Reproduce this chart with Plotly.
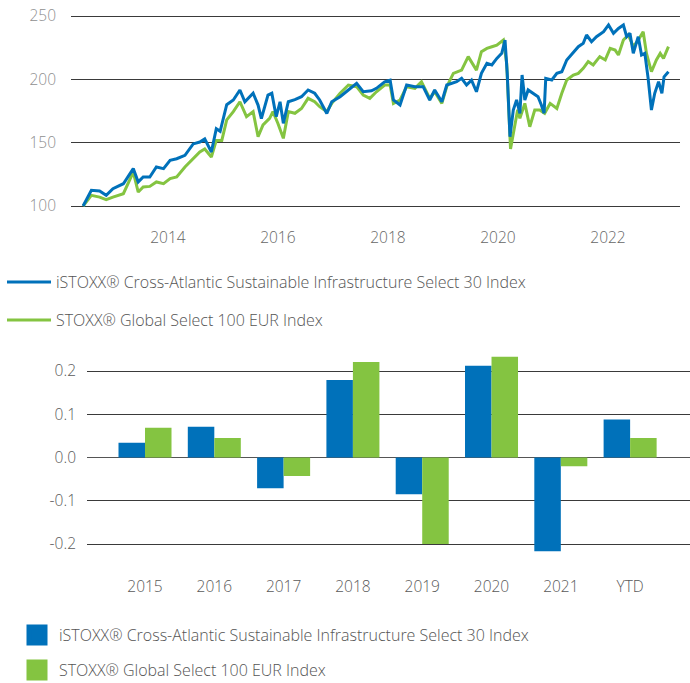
import plotly.graph_objects as go
from datetime import datetime, timedelta

# ---------------- data ----------------
SERIES_A = "iSTOXX® Cross-Atlantic Sustainable Infrastructure Select 30 Index"
SERIES_B = "STOXX® Global Select 100 EUR Index"

blue_years = [2012.46, 2012.61, 2012.76, 2012.88, 2013.00, 2013.19, 2013.37, 2013.46, 2013.55, 2013.67,
              2013.79, 2013.92, 2014.04, 2014.16, 2014.31, 2014.46, 2014.58, 2014.67, 2014.79, 2014.88,
              2014.95, 2015.07, 2015.19, 2015.31, 2015.40, 2015.55, 2015.64, 2015.70, 2015.82, 2015.89,
              2015.97, 2016.04, 2016.10, 2016.19, 2016.31, 2016.43, 2016.55, 2016.67, 2016.76, 2016.89,
              2016.98, 2017.13, 2017.28, 2017.43, 2017.55, 2017.70, 2017.79, 2017.94, 2018.04, 2018.10,
              2018.22, 2018.34, 2018.49, 2018.64, 2018.76, 2018.85, 2018.98, 2019.07, 2019.25, 2019.34,
              2019.43, 2019.52, 2019.61, 2019.70, 2019.80, 2019.89, 2019.98, 2020.07, 2020.13, 2020.17,
              2020.22, 2020.28, 2020.34, 2020.40, 2020.44, 2020.49, 2020.55, 2020.64, 2020.73, 2020.79,
              2020.84, 2020.87, 2020.98, 2021.07, 2021.16, 2021.25, 2021.37, 2021.46, 2021.55, 2021.61,
              2021.70, 2021.79, 2021.92, 2022.01, 2022.10, 2022.19, 2022.28, 2022.34, 2022.40, 2022.46,
              2022.55, 2022.61, 2022.67, 2022.73, 2022.79, 2022.85, 2022.92, 2022.98, 2023.02, 2023.10]
blue_values = [100.0, 112.4, 111.8, 108.4, 113.7, 117.6, 129.5, 119.0, 122.9, 122.9,
               130.8, 129.5, 136.0, 137.3, 140.0, 149.0, 150.5, 153.0, 142.6, 161.0,
               159.0, 180.0, 183.7, 191.6, 182.3, 189.0, 179.7, 169.0, 187.6, 189.0,
               170.5, 182.3, 165.3, 182.3, 184.0, 186.3, 191.6, 189.0, 183.7, 173.0,
               182.3, 186.3, 191.6, 196.8, 190.2, 191.0, 192.9, 198.1, 199.4, 183.7,
               179.7, 195.5, 194.2, 194.2, 183.7, 191.6, 182.3, 195.5, 198.1, 200.8,
               195.5, 199.4, 190.2, 204.7, 212.6, 211.3, 216.5, 220.5, 231.0, 204.7,
               154.7, 175.8, 183.7, 173.1, 203.4, 183.7, 191.6, 189.0, 186.3, 179.7,
               173.2, 200.8, 199.5, 204.7, 206.0, 215.3, 221.8, 225.8, 228.4, 235.0,
               229.7, 233.7, 237.6, 242.9, 236.3, 240.2, 242.9, 233.7, 236.3, 220.5,
               233.7, 219.2, 220.5, 200.8, 175.8, 189.0, 198.2, 189.0, 202.0, 206.0]

green_years = [2012.46, 2012.61, 2012.76, 2012.88, 2013.00, 2013.19, 2013.37, 2013.46, 2013.55, 2013.67,
               2013.79, 2013.92, 2014.04, 2014.16, 2014.31, 2014.46, 2014.58, 2014.67, 2014.79, 2014.88,
               2014.98, 2015.07, 2015.19, 2015.31, 2015.43, 2015.55, 2015.64, 2015.73, 2015.85, 2015.91,
               2016.00, 2016.10, 2016.19, 2016.31, 2016.43, 2016.55, 2016.67, 2016.76, 2016.89, 2016.98,
               2017.13, 2017.28, 2017.43, 2017.55, 2017.67, 2017.79, 2017.94, 2018.04, 2018.10, 2018.22,
               2018.34, 2018.49, 2018.61, 2018.76, 2018.85, 2018.98, 2019.07, 2019.19, 2019.34, 2019.46,
               2019.61, 2019.70, 2019.80, 2019.89, 2019.98, 2020.10, 2020.16, 2020.23, 2020.31, 2020.36,
               2020.40, 2020.49, 2020.58, 2020.67, 2020.76, 2020.85, 2020.95, 2021.07, 2021.16, 2021.25,
               2021.37, 2021.46, 2021.55, 2021.64, 2021.73, 2021.85, 2021.95, 2022.04, 2022.13, 2022.19,
               2022.28, 2022.37, 2022.46, 2022.55, 2022.64, 2022.70, 2022.79, 2022.88, 2022.95, 2023.01,
               2023.10]
green_values = [100.0, 108.4, 107.0, 105.0, 107.0, 109.7, 126.8, 111.0, 115.0, 115.5,
                119.0, 117.6, 121.6, 123.0, 130.8, 137.3, 142.6, 145.0, 138.7, 151.8,
                151.8, 168.0, 174.5, 182.3, 170.5, 174.5, 154.7, 164.0, 169.2, 174.5,
                165.3, 153.4, 174.5, 173.2, 177.0, 185.0, 182.3, 178.4, 174.5, 181.0,
                189.0, 195.5, 194.2, 187.6, 185.0, 190.2, 195.5, 195.5, 181.0, 183.7,
                194.2, 192.9, 198.1, 185.0, 190.2, 181.0, 194.2, 204.7, 207.3, 217.9,
                207.3, 221.8, 224.4, 225.7, 227.0, 231.0, 212.6, 145.0, 162.6, 176.0,
                169.2, 181.0, 162.6, 175.8, 175.8, 173.2, 181.0, 177.0, 189.0, 199.5,
                203.4, 204.7, 208.7, 214.0, 211.3, 217.9, 215.3, 224.5, 223.1, 219.2,
                231.0, 235.0, 225.8, 231.0, 237.6, 220.5, 206.0, 215.3, 220.5, 216.6,
                225.8]

bar_categories = ["2015", "2016", "2017", "2018", "2019", "2020", "2021", "YTD"]
bar_blue = [0.034, 0.071, -0.071, 0.179, -0.085, 0.212, -0.217, 0.088]
bar_green = [0.069, 0.045, -0.043, 0.221, -0.200, 0.233, -0.020, 0.045]

bar_tickvals = [-0.2, -0.1, 0.0, 0.1, 0.2]
bar_ticktext = ["-0.2", "-0.1", "0.0", "0.1", "0.2"]
line_tickvals = [100, 150, 200, 250]

BLUE = "#0071BA"
GREEN = "#84C441"
FONT = "Open Sans"


def to_date(y):
    yr = int(y)
    return datetime(yr, 1, 1) + timedelta(days=(y - yr) * 365.25)


blue_dates = [to_date(v) for v in blue_years]
green_dates = [to_date(v) for v in green_years]

W, H = 690, 683


def px_x(p):
    return p / W


def px_y(p):
    return 1 - p / H


fig = go.Figure()

# line chart (green under blue)
fig.add_trace(go.Scatter(x=green_dates, y=green_values, mode="lines", name=SERIES_B,
                         line=dict(color=GREEN, width=3), xaxis="x", yaxis="y",
                         legend="legend2", hoverinfo="skip"))
fig.add_trace(go.Scatter(x=blue_dates, y=blue_values, mode="lines", name=SERIES_A,
                         line=dict(color=BLUE, width=3), xaxis="x", yaxis="y",
                         legend="legend", hoverinfo="skip"))

# bar chart
fig.add_trace(go.Bar(x=bar_categories, y=bar_blue, name=SERIES_A, marker=dict(color=BLUE, line=dict(width=0)),
                     xaxis="x2", yaxis="y2", showlegend=False))
fig.add_trace(go.Bar(x=bar_categories, y=bar_green, name=SERIES_B, marker=dict(color=GREEN, line=dict(width=0)),
                     xaxis="x2", yaxis="y2", showlegend=False))
# legend entries for the bar chart (square keys)
fig.add_trace(go.Scatter(x=[None], y=[None], mode="markers", name=SERIES_A,
                         marker=dict(symbol="square", size=16, color=BLUE, line=dict(color=BLUE, width=5)),
                         xaxis="x2", yaxis="y2", legend="legend3"))
fig.add_trace(go.Scatter(x=[None], y=[None], mode="markers", name=SERIES_B,
                         marker=dict(symbol="square", size=16, color=GREEN, line=dict(color=GREEN, width=5)),
                         xaxis="x2", yaxis="y2", legend="legend4"))

grid = "#3a3a3a"
tick_light = "#8f8f8f"
tick_dark = "#5a5a5a"
fsize = 15.5

# top axes geometry
y_lo, y_hi = 97, 253
top_px_per = (206 - 16) / 150.0
top_y0 = 206 + (100 - y_lo) * top_px_per
top_y1 = 16 - (y_hi - 250) * top_px_per

# bottom axes geometry
b_px_per = (544 - 371) / 0.4
b_lo, b_hi = -0.24, 0.26
zero_px = 457.5
bot_y0 = zero_px - b_lo * b_px_per
bot_y1 = zero_px - b_hi * b_px_per

legend_common = dict(orientation="v", xanchor="left", yanchor="middle", bgcolor="rgba(0,0,0,0)",
                     borderwidth=0, font=dict(family=FONT, size=16, color="#555555", weight=300),
                     itemclick=False, itemdoubleclick=False)

fig.update_layout(
    width=W, height=H, autosize=False,
    margin=dict(l=0, r=0, t=0, b=0, autoexpand=False),
    paper_bgcolor="white", plot_bgcolor="white",
    font=dict(family=FONT, size=fsize, color=tick_dark),
    barmode="group", bargap=0.235, bargroupgap=0,
    xaxis=dict(domain=[px_x(71), px_x(680)], type="date",
               range=[to_date(2012.24), to_date(2023.31)],
               tick0="2014-01-01", dtick="M24", tickformat="%Y",
               showgrid=False, zeroline=False, showline=False, ticks="",
               ticklabelstandoff=17,
               tickfont=dict(family=FONT, size=fsize, color="#666666", weight=300),
               anchor="y"),
    yaxis=dict(domain=[px_y(top_y0), px_y(top_y1)], range=[y_lo, y_hi],
               tickvals=line_tickvals, showgrid=True, gridcolor=grid, gridwidth=1,
               zeroline=False, showline=False, ticks="", ticklabelstandoff=14,
               tickfont=dict(family=FONT, size=fsize, color=tick_light, weight=300),
               anchor="x"),
    xaxis2=dict(domain=[px_x(87), 1.0], type="category",
                range=[-0.837, 7.864], showgrid=False, zeroline=False, showline=False,
                ticks="", ticklabelstandoff=14,
                tickfont=dict(family=FONT, size=fsize, color=tick_dark, weight=300),
                anchor="y2"),
    yaxis2=dict(domain=[px_y(bot_y0), px_y(bot_y1)], range=[b_lo, b_hi],
                tickvals=bar_tickvals, ticktext=bar_ticktext,
                showgrid=True, gridcolor=grid, gridwidth=1,
                zeroline=True, zerolinecolor="#555555", zerolinewidth=1,
                showline=False, ticks="", ticklabelstandoff=10,
                tickfont=dict(family=FONT, size=fsize, color=tick_dark, weight=300),
                anchor="x2"),
    legend=dict(x=2 / W, y=px_y(282), itemwidth=44, **legend_common),
    legend2=dict(x=2 / W, y=px_y(320), itemwidth=44, **legend_common),
    legend3=dict(x=15 / W, y=px_y(635), itemwidth=34, **legend_common),
    legend4=dict(x=15 / W, y=px_y(670), itemwidth=34, **legend_common),
)

fig.write_html("out.html", config={"displayModeBar": False},
               post_script="document.body.style.margin='0';document.body.style.padding='0';"
                           "document.documentElement.style.overflow='hidden';")
